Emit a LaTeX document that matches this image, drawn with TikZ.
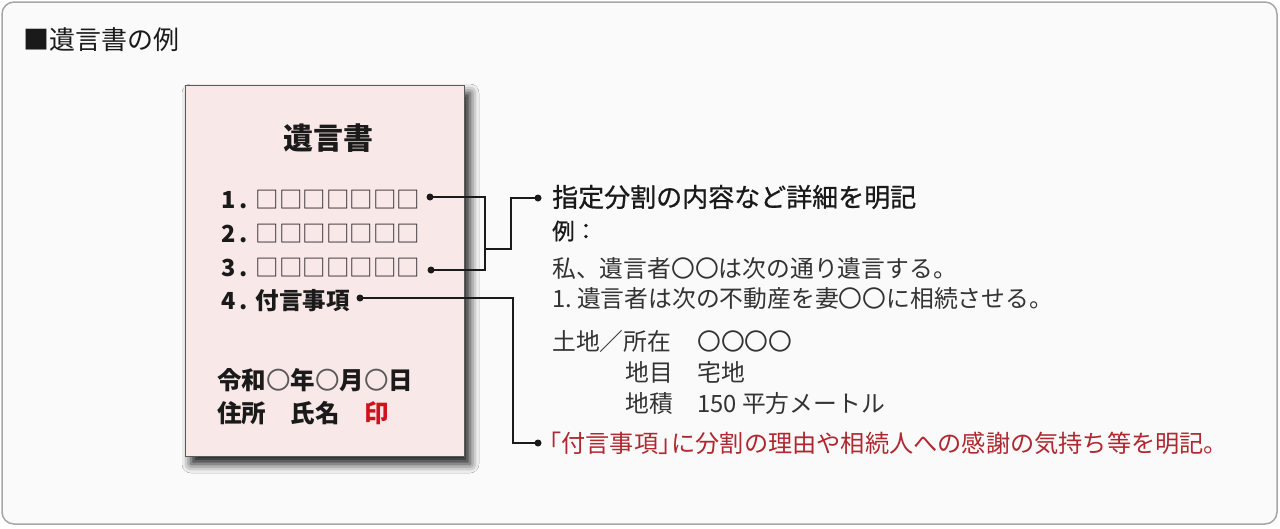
\documentclass[tikz,border=0pt]{standalone}
\usepackage{fontspec}
\setmainfont{Noto Sans CJK JP}
\newfontfamily\medfont{Noto Sans CJK JP}[FakeBold=0.8]
\usetikzlibrary{shadows.blur}
\definecolor{bgc}{HTML}{FAFAFA}
\definecolor{bdc}{HTML}{A6A6A6}
\definecolor{docfill}{HTML}{F9E8E8}
\definecolor{docline}{HTML}{5A5A5A}
\definecolor{redtxt}{HTML}{B0282F}
\definecolor{seal}{HTML}{D0121B}
\definecolor{ink}{HTML}{1A1A1A}
\definecolor{bodyc}{HTML}{333333}
\definecolor{sqc}{HTML}{2E282C}
\tikzset{
  txt/.style={anchor=west, inner sep=0pt, text=ink},
  dot/.style={circle, fill=ink, inner sep=0pt, minimum size=7pt},
  conn/.style={draw=ink, line width=1.3pt},
  doctxt/.style={txt, font=\bfseries\fontsize{23.5}{28}\selectfont},
  bodytxt/.style={txt, text=bodyc, font=\fontsize{23.8}{28}\selectfont},
}
\newcommand{\sq}{{\mdseries\color{sqc}□□□□□□□}}
\newcommand{\cir}{{\mdseries\color{docline}〇}}
\begin{document}
\begin{tikzpicture}[x=1pt,y=-1pt]
\useasboundingbox (0,0) rectangle (1280,528);
\fill[white] (0,0) rectangle (1280,528);
\draw[bdc, fill=bgc, line width=1.5pt, rounded corners=12pt] (2,2) rectangle (1277,524);
\node[txt, font=\fontsize{26}{30}\selectfont] (title) at (23,40) {■遺言書の例};
% document
\node[draw=docline, fill=docfill, line width=1pt, minimum width=279pt, minimum height=371pt, inner sep=0pt,
  blur shadow={shadow xshift=6pt, shadow yshift=-8pt, shadow blur radius=9pt, shadow opacity=90}]
  (doc) at (324.5,270.5) {};
\node[inner sep=0pt, text=ink, font=\bfseries\fontsize{30}{36}\selectfont] (dtitle) at (328,138) {遺言書};
\node[doctxt] (l1) at (221,200) {1\kern4pt.\kern8pt\sq};
\node[doctxt] (l2) at (221,234) {2\kern4pt.\kern8pt\sq};
\node[doctxt] (l3) at (221,268) {3\kern4pt.\kern8pt\sq};
\node[doctxt] (l4) at (221,301) {4\kern4pt.\kern8pt付言事項};
\node[doctxt, font=\bfseries\fontsize{24.5}{29}\selectfont] (date) at (217,380) {令和\cir 年\cir 月\cir 日};
\node[doctxt, font=\bfseries\fontsize{24.5}{29}\selectfont] (sign) at (217,413) {住所　氏名　{\color{seal}印}};
% dots
\node[dot] (d1) at (430,197) {};
\node[dot] (d3) at (431,270) {};
\node[dot] (d4) at (360,298) {};
\node[dot] (e1) at (538,198) {};
\node[dot] (e2) at (538,443) {};
\coordinate (j) at (485,249);
\coordinate (k) at (511,249);
\coordinate (m) at (513,443);
\draw[conn] (d1.center) -| (j) |- (d3.center);
\draw[conn] (j) -- (k) |- (e1.center);
\draw[conn] (d4.center) -| (m) -- (e2.center);
% right texts
\node[txt, font=\medfont\fontsize{26}{30}\selectfont] (h1) at (552,197) {指定分割の内容など詳細を明記};
\node[txt, font=\medfont\fontsize{22.5}{27}\selectfont] (ex) at (552,231) {例：};
\node[bodytxt] (b1) at (552,268) {私、遺言者〇〇は次の通り遺言する。};
\node[bodytxt] (b2) at (552,298) {1.\kern5pt 遺言者は次の不動産を妻〇〇に相続させる。};
\node[bodytxt] (b3) at (552,341) {土地／所在};
\node[bodytxt] (b3v) at (697,341) {〇〇〇〇};
\node[bodytxt] (b4) at (625,372) {地目};
\node[bodytxt] (b4v) at (697,372) {宅地};
\node[bodytxt] (b5) at (625,403) {地積};
\node[bodytxt] (b5v) at (697,403) {150 平方メートル};
\node[txt, text=redtxt, font=\fontsize{24.2}{28}\selectfont] (note) at (537,443) {「付言事項」\kern-11pt に分割の理由や相続人への感謝の気持ち等を明記。};
\end{tikzpicture}
\end{document}
